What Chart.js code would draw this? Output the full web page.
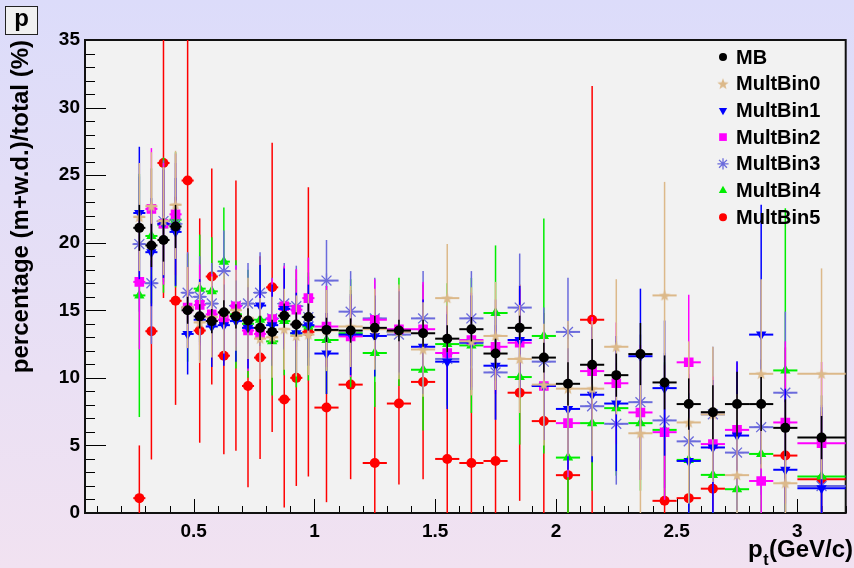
<!DOCTYPE html>
<html><head><meta charset="utf-8">
<script src="https://cdn.jsdelivr.net/npm/chart.js@4.4.1/dist/chart.umd.min.js"></script>
<style>
html,body{margin:0;padding:0;}
body{width:854px;height:568px;background:linear-gradient(to bottom,#dcdcfa,#f1e2f1);overflow:hidden;}
#wrap{position:relative;width:854px;height:568px;}
#pbox{position:absolute;left:5px;top:6px;width:31px;height:27px;border:1px solid #222;background:#f0f0f0;font:bold 24px "Liberation Sans",Arial,sans-serif;text-align:center;line-height:22px;color:#000;}
canvas{position:absolute;left:0;top:0;}
</style></head>
<body><div id="wrap"><canvas id="c" width="854" height="568"></canvas><div id="pbox">p</div></div>
<script>
const ptCenters = [0.275,0.325,0.375,0.425,0.475,0.525,0.575,0.625,0.675,0.725,0.775,0.825,0.875,0.925,0.975,1.05,1.15,1.25,1.35,1.45,1.55,1.65,1.75,1.85,1.95,2.05,2.15,2.25,2.35,2.45,2.55,2.65,2.75,2.85,2.95,3.1];
const ptHalfWidths = [0.025,0.025,0.025,0.025,0.025,0.025,0.025,0.025,0.025,0.025,0.025,0.025,0.025,0.025,0.025,0.05,0.05,0.05,0.05,0.05,0.05,0.05,0.05,0.05,0.05,0.05,0.05,0.05,0.05,0.05,0.05,0.05,0.05,0.05,0.05,0.1];

const mbVal   = [21.1,19.8,20.2,21.2,15.0,14.55,14.2,14.85,14.55,14.25,13.7,13.4,14.6,13.95,14.5,13.55,13.5,13.7,13.5,13.3,12.9,13.6,11.8,13.7,11.5,9.56,10.97,10.2,11.76,9.66,8.06,7.46,8.06,8.06,6.3,5.58];
const mbErr   = [1.7,1.6,1.6,1.6,1.0,0.9,0.9,0.9,0.9,0.9,0.9,0.9,0.9,0.9,1.0,0.9,0.9,0.9,0.8,1.0,1.0,0.9,1.1,0.9,1.1,1.6,1.9,1.6,2.3,2.0,1.9,2.0,2.4,2.0,2.1,1.6];
const mult0Val = [21.9,22.7,21.6,22.8,15.2,14.1,14.5,14.8,15.0,14.4,12.9,13.0,13.6,13.1,13.2,13.5,13.8,13.6,13.4,12.1,15.9,12.7,13.1,11.4,9.5,9.2,9.2,12.3,5.9,16.1,6.7,7.3,2.8,10.3,2.2,10.3];
const mult0Err = [4,4,4,4,3,3,3,3,3,3,3,3,3,3,3,3,3,3,3.5,3.5,4,4,4,4,4.5,5,5,5,6,8.4,6,5,6,7,6,7.8];
const mult1Val = [22.2,19.3,21.4,20.8,13.25,14.3,13.8,13.9,14.2,13.7,15.35,13.9,15.1,13.3,13.9,11.8,13.2,13.1,13.4,12.3,11.2,12.6,10.9,12.8,9.4,7.7,8.75,8.1,11.6,9.24,3.85,4.85,5.73,13.2,3.2,1.83];
const mult1Err = [4.9,4,4,4,3,3,3,3,3,3,3,3,3,3,3,3,3,3,3,3.5,3.5,3.5,4,4,4,4.5,5,5,5,5,5,5,5.5,9.6,6,6];
const mult2Val = [17.1,22.5,21.4,22.1,15.2,15.4,14.7,14.3,15.3,13.5,13.25,14.35,15.3,15.05,15.9,13.8,13.07,14.3,13.6,13.6,11.84,12.8,12.3,12.6,9.4,6.65,10.5,9.6,7.44,5.98,11.15,5.1,6.15,2.37,6.7,5.17];
const mult2Err = [5,4.5,4.5,4.5,3,3,3,3,3,3,3,3,3,3,3,3,3,3,3,3.5,3.5,3.5,3.5,4,4,4,4,4.5,5,5,5,5,5,5,6,6];
const mult3Val = [19.9,17.0,21.6,21.4,16.3,16.0,15.5,17.9,15.35,15.5,16.3,14.4,15.5,15.3,14.5,17.2,14.9,14.4,13.2,14.4,11.4,14.4,10.4,15.2,11.2,13.4,7.9,6.6,8.2,6.85,5.3,7.3,4.47,6.35,8.9,2.0];
const mult3Err = [5,4.5,4.5,4.5,3,3,3,3,3,3,3,3,3,3,3,3,3,3,3,3.5,3.5,3.5,3.5,4,4,4,4,4.5,5,5,5,5,5,5,6,6];
const mult4Val = [16.1,20.5,21.3,21.7,15.2,16.6,16.4,18.6,14.7,14.0,14.3,12.7,14.2,13.3,13.8,12.8,13.3,11.84,13.4,10.6,12.5,12.4,14.8,10.06,13.1,4.1,6.65,7.76,6.65,6.15,3.93,2.82,1.76,4.37,10.55,2.7];
const mult4Err = [9,5,5,5,4,4,4,4,4,4,4,4,4,4,4,4,4,4,4,4.5,4.5,5,5,5,8.7,5,5,5,5,5,5,5,5,6,12,6];
const mult5Val = [1.1,13.45,25.9,15.7,24.6,13.5,17.5,11.64,14.6,9.4,11.5,16.7,8.4,10.0,13.4,7.8,9.5,3.7,8.1,9.7,4.0,3.7,3.85,8.9,6.8,2.8,14.3,null,null,0.9,1.1,1.8,null,null,4.25,2.5];
const mult5Err = [3.9,9.5,10,7.7,10.5,8.3,8,7.3,10,7.5,7.5,10.7,8,8,10.7,7,7,6,6,7.2,7,7,7,8,8,8,17.3,null,null,5,5,5,null,null,8,5];

const seriesLabels = ['MB','MultBin0','MultBin1','MultBin2','MultBin3','MultBin4','MultBin5'];
const xMajorTicks = [0.5,1,1.5,2,2.5,3];
const yMajorTicks = [0,5,10,15,20,25,30,35];

function makeStar(color,size){
  const c=document.createElement('canvas');c.width=size;c.height=size;
  const g=c.getContext('2d');g.fillStyle=color;g.beginPath();
  const cx=size/2,cy=size/2+0.5,R=size/2,r=R*0.42;
  for(let i=0;i<10;i++){const a=-Math.PI/2+i*Math.PI/5;const rr=i%2?r:R;
    const px=cx+rr*Math.cos(a),py=cy+rr*Math.sin(a);i?g.lineTo(px,py):g.moveTo(px,py);}
  g.closePath();g.fill();return c;
}
const tanStar = makeStar('#dcb98a',12);

const seriesVals=[mbVal,mult0Val,mult1Val,mult2Val,mult3Val,mult4Val,mult5Val];
const seriesErrs=[mbErr,mult0Err,mult1Err,mult2Err,mult3Err,mult4Err,mult5Err];
const colors=['#000000','#dcb98a','#0000ff','#ff00ff','#6b6bdc','#00ee00','#ff0000'];
const styles=[
 {pointStyle:'circle',radius:5,rotation:0,borderWidth:0},
 {pointStyle:tanStar,radius:6,rotation:0,borderWidth:0},
 {pointStyle:'triangle',radius:6,rotation:180,borderWidth:0},
 {pointStyle:'rect',radius:6.8,rotation:0,borderWidth:0},
 {pointStyle:'star',radius:7,rotation:0,borderWidth:1.3},
 {pointStyle:'triangle',radius:6,rotation:0,borderWidth:0},
 {pointStyle:'circle',radius:5,rotation:0,borderWidth:0}
];

const datasets=seriesLabels.map((lab,i)=>({
  label:lab,
  data:ptCenters.map((x,k)=>({x:x,y:seriesVals[i][k]})),
  errY:seriesErrs[i],
  pointStyle:styles[i].pointStyle,
  pointRadius:styles[i].radius,
  pointRotation:styles[i].rotation,
  pointBorderWidth:styles[i].borderWidth,
  pointBackgroundColor:colors[i],
  pointBorderColor:colors[i],
  backgroundColor:colors[i],
  borderColor:colors[i],
  showLine:false
}));

const F='"Liberation Sans",Arial,Helvetica,sans-serif';

const framePlugin={
  id:'frame',
  beforeDatasetsDraw(chart){
    const {ctx,chartArea:a,scales:{x,y}}=chart;
    ctx.save();
    ctx.fillStyle='#f2f2f2';ctx.fillRect(a.left,a.top,a.right-a.left,a.bottom-a.top);
    ctx.strokeStyle='#000';ctx.lineWidth=1;
    for(let k=1;k<=32;k++){
      const v=k/10; if(v<x.min||v>x.max) continue;
      const px=Math.round(x.getPixelForValue(v))+0.5;
      const major=(k%5===0);
      ctx.beginPath();ctx.moveTo(px,a.bottom);ctx.lineTo(px,a.bottom-(major?14:7));ctx.stroke();
    }
    for(let v=0;v<=35;v++){
      const py=Math.round(y.getPixelForValue(v))+0.5;
      const major=(v%5===0);
      ctx.beginPath();ctx.moveTo(a.left,py);ctx.lineTo(a.left+(major?21:10),py);ctx.stroke();
    }
    ctx.lineWidth=2;ctx.strokeStyle='#111';
    ctx.strokeRect(a.left,a.top,a.right-a.left,a.bottom-a.top);
    ctx.restore();
  },
  beforeDatasetDraw(chart,args){
    const ds=chart.data.datasets[args.index];
    const {ctx,scales:{x,y}}=chart;
    ctx.save();ctx.strokeStyle=ds.borderColor;
    ds.data.forEach((p,k)=>{
      if(p.y===null||p.y===undefined) return;
      const e=ds.errY[k]||0, hw=ptHalfWidths[k];
      const px=x.getPixelForValue(p.x), py=y.getPixelForValue(p.y);
      const y1=y.getPixelForValue(Math.min(p.y+e,y.max)), y2=y.getPixelForValue(Math.max(p.y-e,y.min));
      const x1=x.getPixelForValue(p.x-hw), x2=x.getPixelForValue(Math.min(p.x+hw,x.max));
      ctx.lineWidth=1.5;ctx.beginPath();ctx.moveTo(px,y1);ctx.lineTo(px,y2);ctx.stroke();
      ctx.lineWidth=2;ctx.beginPath();ctx.moveTo(x1,py);ctx.lineTo(x2,py);ctx.stroke();
    });
    ctx.restore();
  },
  afterDraw(chart){
    const {ctx}=chart;
    ctx.save();
    chart.data.datasets.forEach((ds,i)=>{
      const yy=57+i*26.7;
      ctx.fillStyle=ds.pointBackgroundColor;ctx.strokeStyle=ds.pointBorderColor;ctx.lineWidth=ds.pointBorderWidth||1;
      Chart.helpers.drawPoint(ctx,{pointStyle:ds.pointStyle,radius:ds.pointRadius*0.8,rotation:ds.pointRotation,borderWidth:ds.pointBorderWidth},723,yy);
      ctx.fillStyle='#000';ctx.font='bold 20px '+F;ctx.textBaseline='middle';ctx.textAlign='left';
      ctx.fillText(ds.label,736,yy+1);
    });
    ctx.save();ctx.translate(28,40);ctx.rotate(-Math.PI/2);
    ctx.font='bold 24px '+F;ctx.textAlign='right';ctx.textBaseline='alphabetic';ctx.fillStyle='#000';
    ctx.fillText('percentage (m+w.d.)/total (%)',0,0);ctx.restore();
    ctx.font='bold 24px '+F;ctx.textBaseline='alphabetic';ctx.textAlign='right';ctx.fillStyle='#000';
    const tail='(GeV/c)';ctx.fillText(tail,853,557);
    const wT=ctx.measureText(tail).width;
    ctx.font='bold 16px '+F;const wt=ctx.measureText('t').width;
    ctx.fillText('t',853-wT-0.5,565);
    ctx.font='bold 24px '+F;ctx.fillText('p',853-wT-wt-1,557);
    ctx.restore();
  }
};

new Chart(document.getElementById('c'),{
  type:'scatter',
  data:{datasets},
  options:{
    responsive:false,animation:false,
    layout:{padding:{top:40,right:1,left:0,bottom:0}},
    plugins:{legend:{display:false},tooltip:{enabled:false}},
    scales:{
      x:{type:'linear',min:0.05,max:3.2,grid:{display:false,drawTicks:false},border:{display:false},
        afterBuildTicks(s){s.ticks=xMajorTicks.map(v=>({value:v}));},
        afterFit(s){s.height=55;},
        ticks:{color:'#000',font:{family:F,weight:'bold',size:19},padding:7,maxRotation:0,autoSkip:false,callback:v=>String(v)}},
      y:{type:'linear',min:0,max:35,grid:{display:false,drawTicks:false},border:{display:false},
        afterBuildTicks(s){s.ticks=yMajorTicks.map(v=>({value:v}));},
        afterFit(s){s.width=85;},
        ticks:{color:'#000',font:{family:F,weight:'bold',size:19},padding:5,callback:v=>String(v)}}
    }
  },
  plugins:[framePlugin]
});
</script></body></html>
